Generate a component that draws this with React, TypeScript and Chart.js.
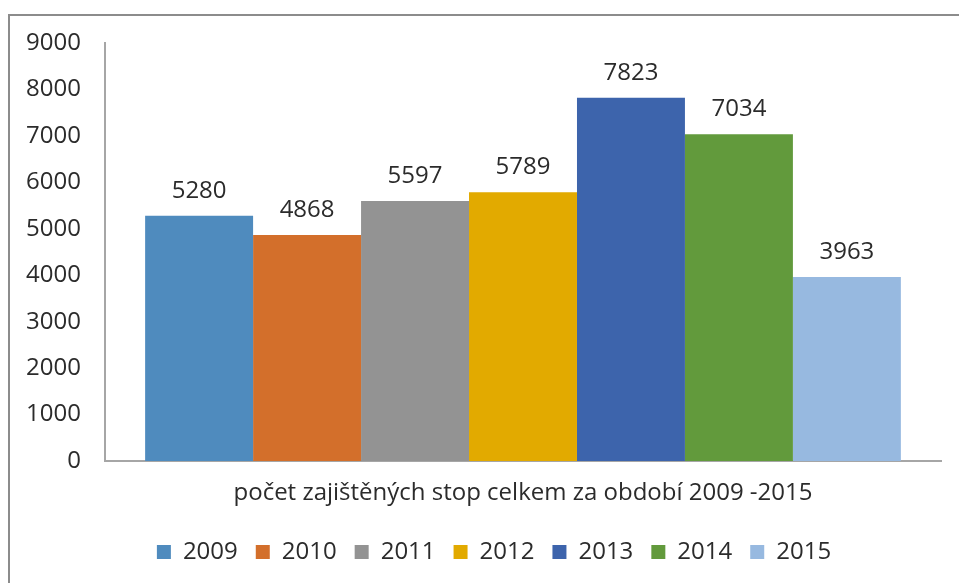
import React, { useEffect, useRef } from "react";
import { Chart, registerables } from "chart.js";

Chart.register(...registerables);

const categoryLabel = "počet zajištěných stop celkem za období 2009 -2015";
const years = ["2009", "2010", "2011", "2012", "2013", "2014", "2015"];
const counts = [5280, 4868, 5597, 5789, 7823, 7034, 3963];
const colors = ["#4f8bbe", "#d36f2b", "#939393", "#e2aa00", "#3d64ac", "#629a3c", "#97b9e0"];
const yTicks = [0, 1000, 2000, 3000, 4000, 5000, 6000, 7000, 8000, 9000];

const FONT = "'Open Sans', sans-serif";
const TEXT = "#2b2b2b";
const SIZE = 24;

const valueLabels = {
  id: "valueLabels",
  beforeDraw(chart: any) {
    if (chart.legend) {
      chart.legend.left = 47;
    }
  },
  afterDatasetsDraw(chart: any) {
    const ctx = chart.ctx;
    ctx.save();
    ctx.font = `${SIZE}px ${FONT}`;
    ctx.fillStyle = TEXT;
    ctx.textAlign = "center";
    ctx.textBaseline = "alphabetic";
    chart.data.datasets.forEach((ds: any, i: number) => {
      const meta = chart.getDatasetMeta(i);
      meta.data.forEach((bar: any, j: number) => {
        ctx.fillText(String(ds.data[j]), bar.x, bar.y - 18);
      });
    });
    ctx.restore();
  },
};

export default function App() {
  const ref = useRef<HTMLCanvasElement>(null);
  useEffect(() => {
    if (!ref.current) return;
    const chart = new Chart(ref.current, {
      type: "bar",
      data: {
        labels: [categoryLabel],
        datasets: years.map((y, i) => ({
          label: y,
          data: [counts[i]],
          backgroundColor: colors[i],
          borderWidth: 0,
          categoryPercentage: 0.904,
          barPercentage: 1,
        })),
      },
      options: {
        responsive: false,
        animation: false,
        layout: { padding: { top: 43, right: 18, left: 0, bottom: 9 } },
        plugins: {
          tooltip: { enabled: false },
          legend: {
            position: "bottom",
            labels: {
              boxWidth: 14,
              boxHeight: 14,
              padding: 18,
              color: TEXT,
              font: { family: FONT, size: SIZE },
            },
          },
        },
        scales: {
          x: {
            grid: { display: false, drawTicks: false },
            border: { display: true, color: "#a6a6a6", width: 2 },
            ticks: { color: TEXT, font: { family: FONT, size: SIZE }, padding: 18 },
            afterFit: (scale: any) => {
              scale.height = 61;
            },
          },
          y: {
            min: 0,
            max: 9000,
            afterBuildTicks: (scale: any) => {
              scale.ticks = yTicks.map((v) => ({ value: v }));
            },
            afterFit: (scale: any) => {
              scale.width = 105;
            },
            grid: { display: false, drawTicks: false },
            border: { display: true, color: "#a6a6a6", width: 2 },
            ticks: {
              color: TEXT,
              font: { family: FONT, size: SIZE },
              padding: 24,
              callback: (v: any) => String(v),
            },
          },
        },
      },
      plugins: [valueLabels],
    });
    return () => chart.destroy();
  }, []);
  return (
    <div style={{ position: "fixed", left: 0, top: 0, width: 959, height: 583, background: "#fff", overflow: "hidden" }}>
      <div
        style={{
          position: "absolute",
          left: 8,
          top: 14,
          width: 1000,
          height: 700,
          borderTop: "2px solid #8c8c8c",
          borderLeft: "2px solid #8c8c8c",
        }}
      />
      <canvas ref={ref} width={959} height={583} style={{ position: "absolute", left: 0, top: 0 }} />
    </div>
  );
}
